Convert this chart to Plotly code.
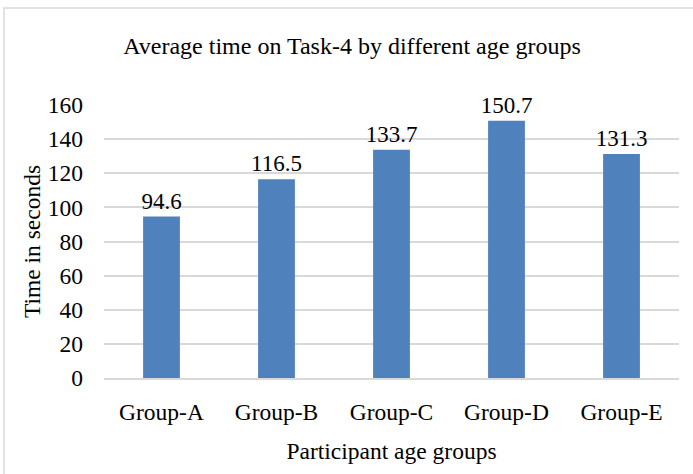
import plotly.graph_objects as go

# Average completion time for Task-4 per participant age group
groups = ["Group-A", "Group-B", "Group-C", "Group-D", "Group-E"]
avg_seconds = [94.6, 116.5, 133.7, 150.7, 131.3]
y_ticks = [0, 20, 40, 60, 80, 100, 120, 140, 160]

SERIF = "Liberation Serif, Times New Roman, serif"
BAR_BLUE = "#4F81BD"
GRID = "#D9D9D9"

W, H = 693, 474
L, R, T, B = 104, 14, 105, 96

fig = go.Figure(
    go.Bar(
        x=groups,
        y=avg_seconds,
        marker=dict(color=BAR_BLUE, line=dict(width=0)),
        width=0.32,
        text=[f"{v:.1f}" for v in avg_seconds],
        textposition="outside",
        constraintext="none",
        textfont=dict(family=SERIF, size=23, color="#000000"),
        cliponaxis=False,
    )
)

fig.update_layout(
    width=W,
    height=H,
    margin=dict(l=L, r=R, t=T, b=B),
    paper_bgcolor="white",
    plot_bgcolor="white",
    showlegend=False,
    font=dict(family=SERIF, color="#000000"),
    title=dict(
        text="Average time on Task-4 by different age groups",
        font=dict(family=SERIF, size=24, color="#000000"),
        x=352 / W,
        xanchor="center",
        y=1 - 46 / H,
        yanchor="middle",
        yref="container",
    ),
    xaxis=dict(
        showgrid=False,
        showline=True,
        linecolor=GRID,
        linewidth=1.5,
        ticks="",
        ticklabelstandoff=12,
        tickfont=dict(family=SERIF, size=23.5),
        title=dict(text="Participant age groups", font=dict(family=SERIF, size=23.5), standoff=19),
    ),
    yaxis=dict(
        range=[0, 160],
        tickvals=y_ticks,
        showgrid=True,
        gridcolor=GRID,
        gridwidth=1.5,
        zeroline=False,
        showline=False,
        ticks="",
        ticklabelstandoff=20,
        tickfont=dict(family=SERIF, size=23.5),
        title=dict(text="Time in seconds", font=dict(family=SERIF, size=23.5), standoff=0),
    ),
    shapes=[
        dict(
            type="rect",
            xref="paper",
            yref="paper",
            x0=(4 - L) / (W - L - R),
            x1=(W + 40 - L) / (W - L - R),
            y0=-(B + 40) / (H - T - B),
            y1=1 + (T - 8) / (H - T - B),
            line=dict(color="#D9D9D9", width=1.5),
            fillcolor="rgba(0,0,0,0)",
            layer="below",
        )
    ],
)

fig.write_html("out.html")
